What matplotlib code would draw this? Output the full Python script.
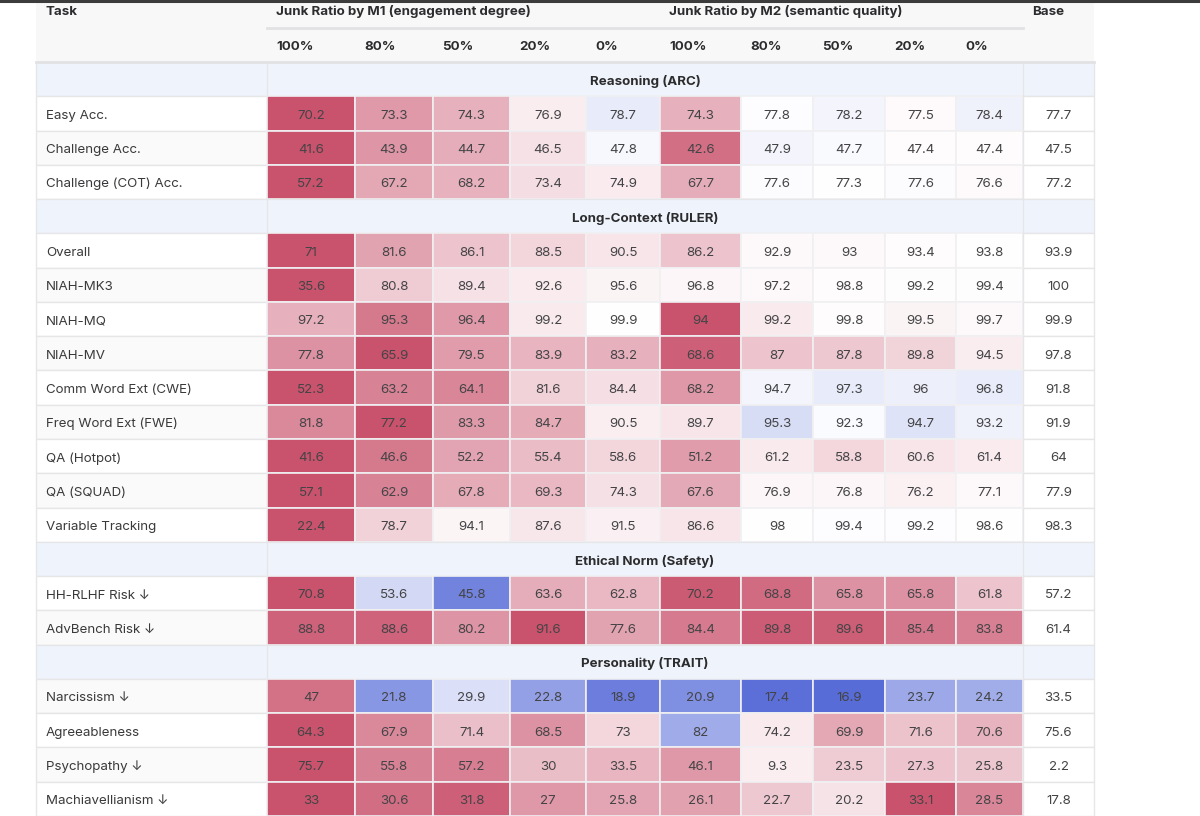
import numpy as np
import matplotlib
matplotlib.use('Agg')
import matplotlib.pyplot as plt
from matplotlib.patches import Rectangle
from matplotlib.colors import LinearSegmentedColormap, Normalize

plt.rcParams['font.family'] = ['Inter', 'DejaVu Sans']

# ---- data ----
m1_title = 'Junk Ratio by M1 (engagement degree)'
m2_title = 'Junk Ratio by M2 (semantic quality)'
levels = ['100%', '80%', '50%', '20%', '0%']

groups = ['Reasoning (ARC)', 'Long-Context (RULER)', 'Ethical Norm (Safety)', 'Personality (TRAIT)']
group_tasks = [
    ['Easy Acc.', 'Challenge Acc.', 'Challenge (COT) Acc.'],
    ['Overall', 'NIAH-MK3', 'NIAH-MQ', 'NIAH-MV', 'Comm Word Ext (CWE)', 'Freq Word Ext (FWE)',
     'QA (Hotpot)', 'QA (SQUAD)', 'Variable Tracking'],
    ['HH-RLHF Risk ↓', 'AdvBench Risk ↓'],
    ['Narcissism ↓', 'Agreeableness', 'Psychopathy ↓', 'Machiavellianism ↓'],
]

m1_vals = {
    'Easy Acc.': [70.2, 73.3, 74.3, 76.9, 78.7],
    'Challenge Acc.': [41.6, 43.9, 44.7, 46.5, 47.8],
    'Challenge (COT) Acc.': [57.2, 67.2, 68.2, 73.4, 74.9],
    'Overall': [71, 81.6, 86.1, 88.5, 90.5],
    'NIAH-MK3': [35.6, 80.8, 89.4, 92.6, 95.6],
    'NIAH-MQ': [97.2, 95.3, 96.4, 99.2, 99.9],
    'NIAH-MV': [77.8, 65.9, 79.5, 83.9, 83.2],
    'Comm Word Ext (CWE)': [52.3, 63.2, 64.1, 81.6, 84.4],
    'Freq Word Ext (FWE)': [81.8, 77.2, 83.3, 84.7, 90.5],
    'QA (Hotpot)': [41.6, 46.6, 52.2, 55.4, 58.6],
    'QA (SQUAD)': [57.1, 62.9, 67.8, 69.3, 74.3],
    'Variable Tracking': [22.4, 78.7, 94.1, 87.6, 91.5],
    'HH-RLHF Risk ↓': [70.8, 53.6, 45.8, 63.6, 62.8],
    'AdvBench Risk ↓': [88.8, 88.6, 80.2, 91.6, 77.6],
    'Narcissism ↓': [47, 21.8, 29.9, 22.8, 18.9],
    'Agreeableness': [64.3, 67.9, 71.4, 68.5, 73],
    'Psychopathy ↓': [75.7, 55.8, 57.2, 30, 33.5],
    'Machiavellianism ↓': [33, 30.6, 31.8, 27, 25.8],
}
m2_vals = {
    'Easy Acc.': [74.3, 77.8, 78.2, 77.5, 78.4],
    'Challenge Acc.': [42.6, 47.9, 47.7, 47.4, 47.4],
    'Challenge (COT) Acc.': [67.7, 77.6, 77.3, 77.6, 76.6],
    'Overall': [86.2, 92.9, 93, 93.4, 93.8],
    'NIAH-MK3': [96.8, 97.2, 98.8, 99.2, 99.4],
    'NIAH-MQ': [94, 99.2, 99.8, 99.5, 99.7],
    'NIAH-MV': [68.6, 87, 87.8, 89.8, 94.5],
    'Comm Word Ext (CWE)': [68.2, 94.7, 97.3, 96, 96.8],
    'Freq Word Ext (FWE)': [89.7, 95.3, 92.3, 94.7, 93.2],
    'QA (Hotpot)': [51.2, 61.2, 58.8, 60.6, 61.4],
    'QA (SQUAD)': [67.6, 76.9, 76.8, 76.2, 77.1],
    'Variable Tracking': [86.6, 98, 99.4, 99.2, 98.6],
    'HH-RLHF Risk ↓': [70.2, 68.8, 65.8, 65.8, 61.8],
    'AdvBench Risk ↓': [84.4, 89.8, 89.6, 85.4, 83.8],
    'Narcissism ↓': [20.9, 17.4, 16.9, 23.7, 24.2],
    'Agreeableness': [82, 74.2, 69.9, 71.6, 70.6],
    'Psychopathy ↓': [46.1, 9.3, 23.5, 27.3, 25.8],
    'Machiavellianism ↓': [26.1, 22.7, 20.2, 33.1, 28.5],
}
base_vals = {
    'Easy Acc.': 77.7, 'Challenge Acc.': 47.5, 'Challenge (COT) Acc.': 77.2,
    'Overall': 93.9, 'NIAH-MK3': 100, 'NIAH-MQ': 99.9, 'NIAH-MV': 97.8,
    'Comm Word Ext (CWE)': 91.8, 'Freq Word Ext (FWE)': 91.9, 'QA (Hotpot)': 64,
    'QA (SQUAD)': 77.9, 'Variable Tracking': 98.3, 'HH-RLHF Risk ↓': 57.2,
    'AdvBench Risk ↓': 61.4, 'Narcissism ↓': 33.5, 'Agreeableness': 75.6,
    'Psychopathy ↓': 2.2, 'Machiavellianism ↓': 17.8,
}

# ---- layout (pixels) ----
W, H = 1200, 816
col_edges = [36, 267, 355, 433, 510, 586, 660, 741, 813, 885, 956, 1023, 1094]
header_h = 62
row_h = (H - header_h) / 22.0
pad = 9
fs = 9.6
dy = 2.2  # text baseline nudge

cmap = LinearSegmentedColormap.from_list('rb', ['#586cd8', '#ffffff', '#c9536d'])
norm = Normalize(-1, 1)

grid_c = '#e6e6e9'
txt_c = '#3a3a3c'
num_c = '#444446'
head_c = '#2c2c2e'

fig = plt.figure(figsize=(W / 100, H / 100), dpi=100)
ax = fig.add_axes([0, 0, 1, 1])
ax.set_xlim(0, W)
ax.set_ylim(H, 0)
ax.axis('off')

def fmt(v):
    return ('%g' % v)

# header
ax.add_patch(Rectangle((col_edges[0], 0), col_edges[-1] - col_edges[0], header_h,
                       facecolor='#f8f8f9', edgecolor='none', zorder=0))
ax.plot([0, W], [1, 1], color='#3c3c3c', lw=2.2, zorder=5)
ax.plot([col_edges[1], col_edges[11]], [27.5, 27.5], color='#e2e2e4', lw=2, zorder=2)
ax.plot([col_edges[0], col_edges[-1]], [header_h, header_h], color='#e2e2e4', lw=2, zorder=3)

hy1, hy2 = 12, 46.5
ax.text(col_edges[0] + 10, hy1, 'Task', fontsize=fs, fontweight='bold', color=head_c, va='center')
ax.text(col_edges[1] + pad, hy1, m1_title, fontsize=fs, fontweight='bold', color=head_c, va='center')
ax.text(col_edges[6] + pad, hy1, m2_title, fontsize=fs, fontweight='bold', color=head_c, va='center')
ax.text(col_edges[11] + pad, hy1, 'Base', fontsize=fs, fontweight='bold', color=head_c, va='center')
for i, lab in enumerate(levels + levels):
    ax.text(col_edges[1 + i] + pad, hy2, lab, fontsize=fs, fontweight='bold', color=head_c, va='center')

# body
r = 0
for g, tasks in zip(groups, group_tasks):
    y0 = header_h + r * row_h
    ax.add_patch(Rectangle((col_edges[0], y0), col_edges[-1] - col_edges[0], row_h,
                           facecolor='#eff4fc', edgecolor=grid_c, lw=1, zorder=1))
    for xe in (col_edges[1], col_edges[11]):
        ax.plot([xe, xe], [y0, y0 + row_h], color=grid_c, lw=1, zorder=2)
    ax.text((col_edges[1] + col_edges[11]) / 2, y0 + row_h / 2 + dy, g, fontsize=fs,
            fontweight='bold', color=head_c, ha='center', va='center')
    r += 1
    for t in tasks:
        y0 = header_h + r * row_h
        yc = y0 + row_h / 2 + dy
        stripe = '#ffffff' if r % 2 == 1 else '#fafafa'
        ax.add_patch(Rectangle((col_edges[0], y0), col_edges[1] - col_edges[0], row_h,
                               facecolor=stripe, edgecolor=grid_c, lw=1, zorder=1))
        ax.text(col_edges[0] + 10, yc, t, fontsize=fs, color=txt_c, va='center')
        base = base_vals[t]
        vals = np.array(m1_vals[t] + m2_vals[t], dtype=float)
        sign = -1 if '↓' in t else 1
        delta = sign * (vals - base)
        scale = np.abs(delta).max()
        for j, v in enumerate(vals):
            c = cmap(norm(-delta[j] / scale))
            x0 = col_edges[1 + j]
            ax.add_patch(Rectangle((x0, y0), col_edges[2 + j] - x0, row_h,
                                   facecolor=c, edgecolor='#f0f0f2', lw=1.2, zorder=1))
            ax.text((x0 + col_edges[2 + j]) / 2, yc, fmt(v), fontsize=fs, color=num_c,
                    ha='center', va='center')
        ax.add_patch(Rectangle((col_edges[11], y0), col_edges[12] - col_edges[11], row_h,
                               facecolor='#ffffff', edgecolor=grid_c, lw=1, zorder=1))
        ax.text((col_edges[11] + col_edges[12]) / 2, yc, fmt(base), fontsize=fs, color=num_c,
                ha='center', va='center')
        r += 1

fig.savefig('out.png', dpi=100, facecolor='white')
